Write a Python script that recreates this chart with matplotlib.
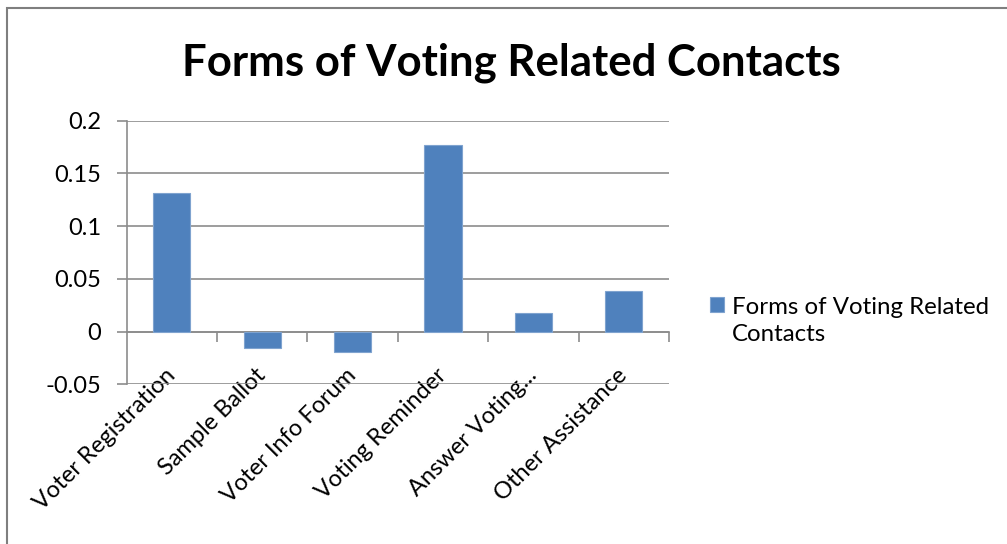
import matplotlib.pyplot as plt
from matplotlib.patches import Rectangle
from matplotlib.ticker import FuncFormatter
import numpy as np

categories = ["Voter Registration", "Sample Ballot", "Voter Info Forum",
              "Voting Reminder", "Answer Voting...", "Other Assistance"]
values = [0.1313, -0.0158, -0.0196, 0.1768, 0.0175, 0.0389]
series_name = "Forms of Voting Related Contacts"
y_ticks = [-0.05, 0, 0.05, 0.1, 0.15, 0.2]

BAR = "#4F81BD"
GRID = "#8C8C8C"
FONT = "Lato"

fig = plt.figure(figsize=(10.07, 5.44), dpi=100)
ax = fig.add_axes([0.1258, 0.2934, 0.5385, 0.4847])

x = np.arange(len(categories))
ax.bar(x, values, width=0.41, color=BAR, edgecolor="#7FA3CF", linewidth=0.8,
       zorder=3, label=series_name)

ax.set_xlim(-0.5, len(categories) - 0.5)
ax.set_ylim(y_ticks[0], y_ticks[-1])
ax.set_yticks(y_ticks)
ax.yaxis.set_major_formatter(FuncFormatter(lambda v, _: f"{v:g}"))
ax.grid(axis="y", color=GRID, linewidth=1.2, zorder=0)
ax.tick_params(axis="y", length=7.2, width=1.2, color=GRID, labelsize=17,
               pad=11)
for lbl in ax.get_yticklabels():
    lbl.set_family(FONT)

# category names hang off the bottom edge, no tick marks there
ax.set_xticks(x)
ax.set_xticklabels(categories, rotation=45, ha="right", va="center",
                   rotation_mode="anchor", fontsize=17, family=FONT)
ax.tick_params(axis="x", length=0, pad=-9)

for side in ("top", "right", "bottom"):
    ax.spines[side].set_visible(False)
ax.spines["left"].set_color(GRID)
ax.spines["left"].set_linewidth(1.2)

# category axis crossing at zero, with tick marks between categories
zero_axis = ax.secondary_xaxis(0, transform=ax.transData)
zero_axis.set_xticks(np.arange(len(categories)) + 0.5)
zero_axis.set_xticklabels([])
zero_axis.tick_params(length=7, width=1.2, color=GRID)
zero_axis.spines["bottom"].set_color(GRID)
zero_axis.spines["bottom"].set_linewidth(1.2)

fig.text(0.508, 0.885, series_name, ha="center", va="center",
         fontsize=31.5, fontweight="bold", family=FONT)

# legend entry on the right, square lined up with the first text line
handles, labels = ax.get_legend_handles_labels()
leg = fig.legend(handles, ["Forms of Voting Related\nContacts"],
                 loc="center left", bbox_to_anchor=(0.705, 0.41),
                 frameon=False, handlelength=0.6, handleheight=0.6,
                 handletextpad=0.3, borderpad=0, borderaxespad=0,
                 prop={"family": FONT, "size": 17.3})
leg.get_texts()[0].set_linespacing(1.4)
leg._legend_handle_box.get_children()[0].get_children()[0].align = "top"

fig.patches.append(Rectangle((0.007, -0.1), 1.1, 1.1 - 8 / 544,
                             transform=fig.transFigure, fill=False,
                             edgecolor="#7F7F7F", linewidth=1.5))

fig.savefig("out.png", dpi=100)
